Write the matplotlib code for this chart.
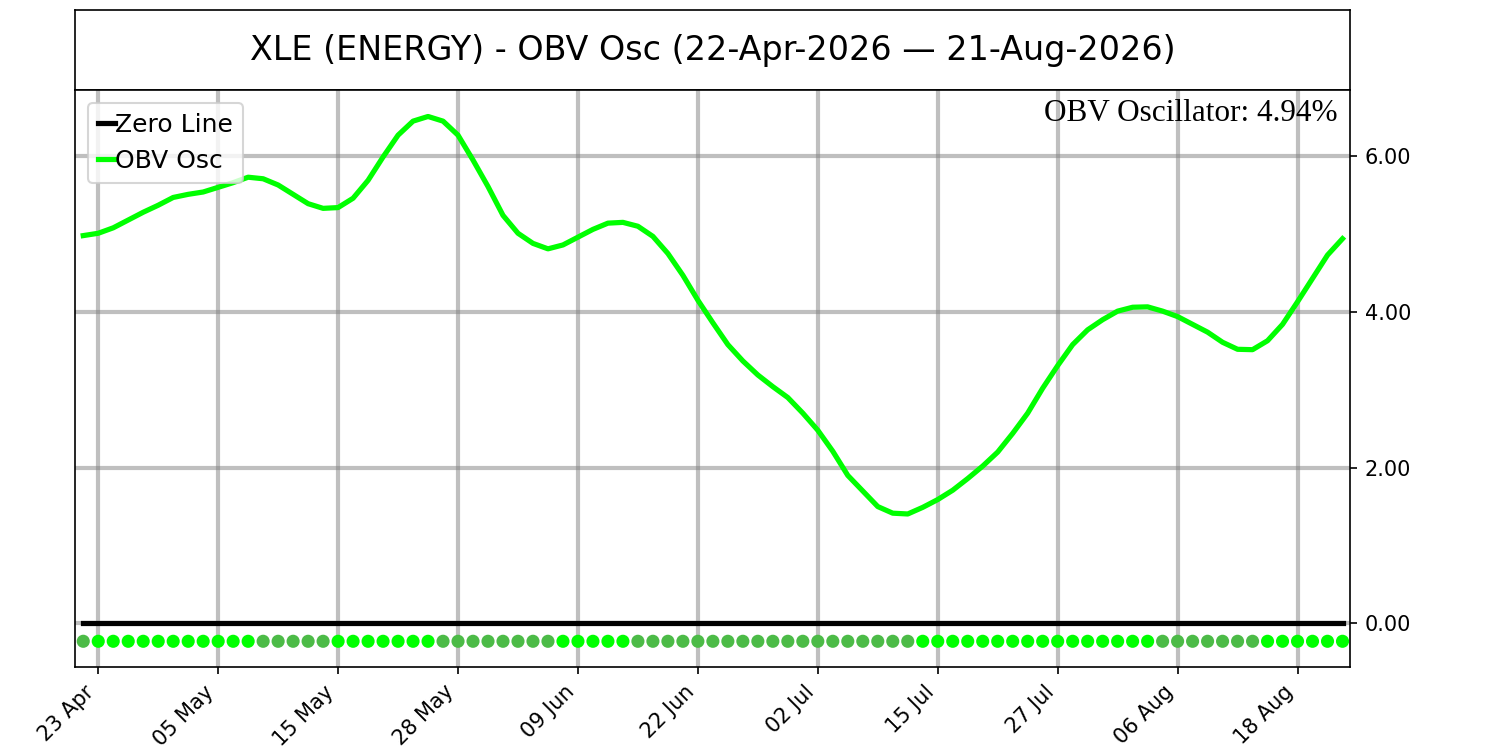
import numpy as np
import pandas as pd
import matplotlib.pyplot as plt

ticker = 'XLE (ENERGY)'
start_date = '2026-04-22'
end_date = '2026-08-21'
holidays = ['2026-05-25', '2026-06-19', '2026-07-03']

# OBV oscillator (%) per trading day
obv_osc = [4.98, 5.01, 5.08, 5.18, 5.28, 5.37, 5.47, 5.51, 5.54, 5.60,
           5.66, 5.73, 5.71, 5.63, 5.51, 5.39, 5.33, 5.34, 5.46, 5.69,
           5.99, 6.27, 6.45, 6.51, 6.45, 6.27, 5.95, 5.61, 5.24, 5.01,
           4.88, 4.81, 4.86, 4.96, 5.06, 5.14, 5.15, 5.10, 4.97, 4.75,
           4.47, 4.15, 3.86, 3.58, 3.37, 3.19, 3.04, 2.90, 2.70, 2.48,
           2.21, 1.90, 1.70, 1.50, 1.415, 1.405, 1.49, 1.59, 1.71, 1.86,
           2.02, 2.20, 2.44, 2.70, 3.02, 3.31, 3.58, 3.77, 3.90, 4.01,
           4.06, 4.065, 4.01, 3.94, 3.84, 3.74, 3.61, 3.52, 3.515, 3.63,
           3.84, 4.13, 4.43, 4.73, 4.94]

y_ticks = [0, 2, 4, 6]


def trading_days():
    days = pd.bdate_range(start_date, end_date)
    return days[~days.isin(pd.to_datetime(holidays))]


def plot_obv(dates, vals):
    x = np.arange(len(vals))
    vals = np.array(vals)

    fig = plt.figure(figsize=(10, 5), dpi=150)
    ax_t = fig.add_axes([0.05, 0.88, 0.85, 0.1067])
    ax_t.set_xticks([])
    ax_t.set_yticks([])
    t0 = pd.Timestamp(start_date).strftime('%d-%b-%Y')
    t1 = pd.Timestamp(end_date).strftime('%d-%b-%Y')
    ax_t.text(0.5, 0.49, f"{ticker} - OBV Osc ({t0} \u2014 {t1})",
              ha='center', va='center', fontsize=16, transform=ax_t.transAxes)

    ax = fig.add_axes([0.05, 0.1107, 0.85, 0.7693])
    ax.plot(x, np.zeros(len(x)), color='black', lw=2.5, label='Zero Line')
    ax.plot(x, vals, color='#00ff00', lw=2.5, label='OBV Osc')

    rising = np.diff(vals, prepend=vals[0]) > 0
    colors = np.where(rising, '#00ff00', '#4cbb47')
    ax.scatter(x, np.full(len(x), -0.23), c=colors, s=28, zorder=3)

    ax.grid(True, color='gray', alpha=0.5, lw=2)
    ax.set_xlim(-0.55, len(x) - 0.5)
    ax.set_ylim(-0.56, 6.85)

    ax.yaxis.tick_right()
    ax.set_yticks(y_ticks)
    ax.set_yticklabels([f"{v:.2f}" for v in y_ticks])

    tick_idx = x[1::8]
    ax.set_xticks(tick_idx)
    ax.set_xticklabels([dates[i].strftime('%d %b') for i in tick_idx],
                       rotation=45, ha='right')

    ax.text(0.99, 0.985, f"OBV Oscillator: {vals[-1]:.2f}%", transform=ax.transAxes,
            ha='right', va='top', fontsize=15, family='Liberation Serif')
    ax.legend(loc='upper left', fontsize=12, handlelength=0.7, handletextpad=0.0)

    fig.savefig('out.png', dpi=150)


if __name__ == "__main__":
    plot_obv(trading_days(), obv_osc)
